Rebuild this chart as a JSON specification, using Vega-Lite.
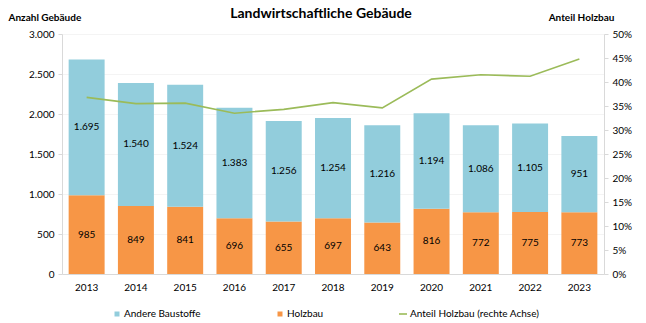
{
  "$schema": "https://vega.github.io/schema/vega-lite/v6.json",
  "width": 542,
  "height": 240,
  "autosize": {"type": "none"},
  "padding": {"left": 62, "top": 34, "right": 42, "bottom": 49},
  "background": "white",
  "title": {
    "text": "Landwirtschaftliche Gebäude",
    "fontSize": 14,
    "fontWeight": "bold",
    "color": "#000000",
    "anchor": "middle",
    "frame": "group",
    "dx": -12,
    "dy": 13
  },
  "datasets": {
    "bars": [
      {"year": "2013", "category": "Holzbau", "value": 985},
      {"year": "2013", "category": "Andere Baustoffe", "value": 1695},
      {"year": "2014", "category": "Holzbau", "value": 849},
      {"year": "2014", "category": "Andere Baustoffe", "value": 1540},
      {"year": "2015", "category": "Holzbau", "value": 841},
      {"year": "2015", "category": "Andere Baustoffe", "value": 1524},
      {"year": "2016", "category": "Holzbau", "value": 696},
      {"year": "2016", "category": "Andere Baustoffe", "value": 1383},
      {"year": "2017", "category": "Holzbau", "value": 655},
      {"year": "2017", "category": "Andere Baustoffe", "value": 1256},
      {"year": "2018", "category": "Holzbau", "value": 697},
      {"year": "2018", "category": "Andere Baustoffe", "value": 1254},
      {"year": "2019", "category": "Holzbau", "value": 643},
      {"year": "2019", "category": "Andere Baustoffe", "value": 1216},
      {"year": "2020", "category": "Holzbau", "value": 816},
      {"year": "2020", "category": "Andere Baustoffe", "value": 1194},
      {"year": "2021", "category": "Holzbau", "value": 772},
      {"year": "2021", "category": "Andere Baustoffe", "value": 1086},
      {"year": "2022", "category": "Holzbau", "value": 775},
      {"year": "2022", "category": "Andere Baustoffe", "value": 1105},
      {"year": "2023", "category": "Holzbau", "value": 773},
      {"year": "2023", "category": "Andere Baustoffe", "value": 951}
    ],
    "share": [
      {"year": "2013", "share": 0.368},
      {"year": "2014", "share": 0.355},
      {"year": "2015", "share": 0.356},
      {"year": "2016", "share": 0.335},
      {"year": "2017", "share": 0.343},
      {"year": "2018", "share": 0.357},
      {"year": "2019", "share": 0.346},
      {"year": "2020", "share": 0.406},
      {"year": "2021", "share": 0.415},
      {"year": "2022", "share": 0.412},
      {"year": "2023", "share": 0.448}
    ]
  },
  "layer": [
    {
      "data": {"name": "bars"},
      "transform": [
        {"stack": "value", "groupby": ["year"], "sort": [{"field": "category", "order": "descending"}], "as": ["v0", "v1"]},
        {"calculate": "(datum.v0 + datum.v1) / 2", "as": "mid"}
      ],
      "encoding": {
        "x": {
          "field": "year",
          "type": "ordinal",
          "scale": {"paddingInner": 0.27, "paddingOuter": 0.135},
          "axis": {
            "title": null,
            "labelAngle": 0,
            "ticks": false,
            "labelPadding": 8,
            "domainColor": "#d9d9d9",
            "labelFontSize": 10,
            "labelColor": "#000000"
          }
        }
      },
      "layer": [
        {
          "mark": {"type": "bar"},
          "encoding": {
            "y": {
              "field": "v1",
              "type": "quantitative",
              "scale": {"domain": [0, 3000]},
              "axis": {
                "values": [0, 500, 1000, 1500, 2000, 2500, 3000],
                "format": ",d",
                "title": "Anzahl Gebäude",
                "titleAngle": 0,
                "titleAlign": "left",
                "titleBaseline": "middle",
                "titleX": -54,
                "titleY": -17,
                "titleFontSize": 10,
                "titleFontWeight": "bold",
                "titleColor": "#000000",
                "labelFontSize": 10,
                "labelColor": "#000000",
                "labelPadding": 4,
                "tickSize": 4,
                "tickColor": "#d9d9d9",
                "domainColor": "#d9d9d9",
                "grid": true,
                "gridColor": "#f4f4f4"
              }
            },
            "y2": {"field": "v0"},
            "fill": {
              "field": "category",
              "type": "nominal",
              "scale": {"domain": ["Andere Baustoffe", "Holzbau"], "range": ["#92CDDC", "#F79646"]},
              "legend": {
                "title": null,
                "orient": "none",
                "direction": "horizontal",
                "legendX": 50,
                "legendY": 275,
                "symbolType": "square",
                "symbolSize": 25,
                "labelOffset": 2,
                "columnPadding": 74,
                "labelFontSize": 10,
                "labelColor": "#000000"
              }
            }
          }
        },
        {
          "mark": {"type": "text", "fontSize": 10, "color": "#000000"},
          "encoding": {
            "y": {
              "field": "mid",
              "type": "quantitative",
              "axis": {
                "values": [0, 500, 1000, 1500, 2000, 2500, 3000],
                "format": ",d",
                "title": "Anzahl Gebäude",
                "titleAngle": 0,
                "titleAlign": "left",
                "titleBaseline": "middle",
                "titleX": -54,
                "titleY": -17,
                "titleFontSize": 10,
                "titleFontWeight": "bold",
                "titleColor": "#000000",
                "labelFontSize": 10,
                "labelColor": "#000000",
                "labelPadding": 4,
                "tickSize": 4,
                "tickColor": "#d9d9d9",
                "domainColor": "#d9d9d9",
                "grid": true,
                "gridColor": "#f4f4f4"
              }
            },
            "text": {"field": "value", "type": "quantitative", "format": ",d"}
          }
        }
      ]
    },
    {
      "data": {"name": "share"},
      "mark": {"type": "line", "strokeWidth": 1.6},
      "encoding": {
        "x": {"field": "year", "type": "ordinal"},
        "y": {
          "field": "share",
          "type": "quantitative",
          "scale": {"domain": [0, 0.5]},
          "axis": {
            "orient": "right",
            "values": [0, 0.05, 0.1, 0.15, 0.2, 0.25, 0.3, 0.35, 0.4, 0.45, 0.5],
            "format": ".0%",
            "title": "Anteil Holzbau",
            "titleAngle": 0,
            "titleAlign": "center",
            "titleBaseline": "middle",
            "titleX": -23,
            "titleY": -17,
            "titleFontSize": 10,
            "titleFontWeight": "bold",
            "titleColor": "#000000",
            "labelFontSize": 10,
            "labelColor": "#000000",
            "labelPadding": 4,
            "tickSize": 4,
            "tickColor": "#d9d9d9",
            "domainColor": "#d9d9d9",
            "grid": false
          }
        },
        "stroke": {
          "datum": "Anteil Holzbau (rechte Achse)",
          "type": "nominal",
          "scale": {"range": ["#9BBB59"]},
          "legend": {
            "title": null,
            "orient": "none",
            "legendX": 336,
            "legendY": 275,
            "symbolType": "stroke",
            "symbolSize": 64,
            "symbolStrokeWidth": 1.6,
            "labelOffset": 2,
            "labelFontSize": 10,
            "labelColor": "#000000"
          }
        }
      }
    }
  ],
  "resolve": {"scale": {"y": "independent"}},
  "config": {
    "font": "Lato",
    "view": {"stroke": null},
    "locale": {"number": {"decimal": ",", "thousands": ".", "grouping": [3], "currency": ["", " €"]}}
  }
}
